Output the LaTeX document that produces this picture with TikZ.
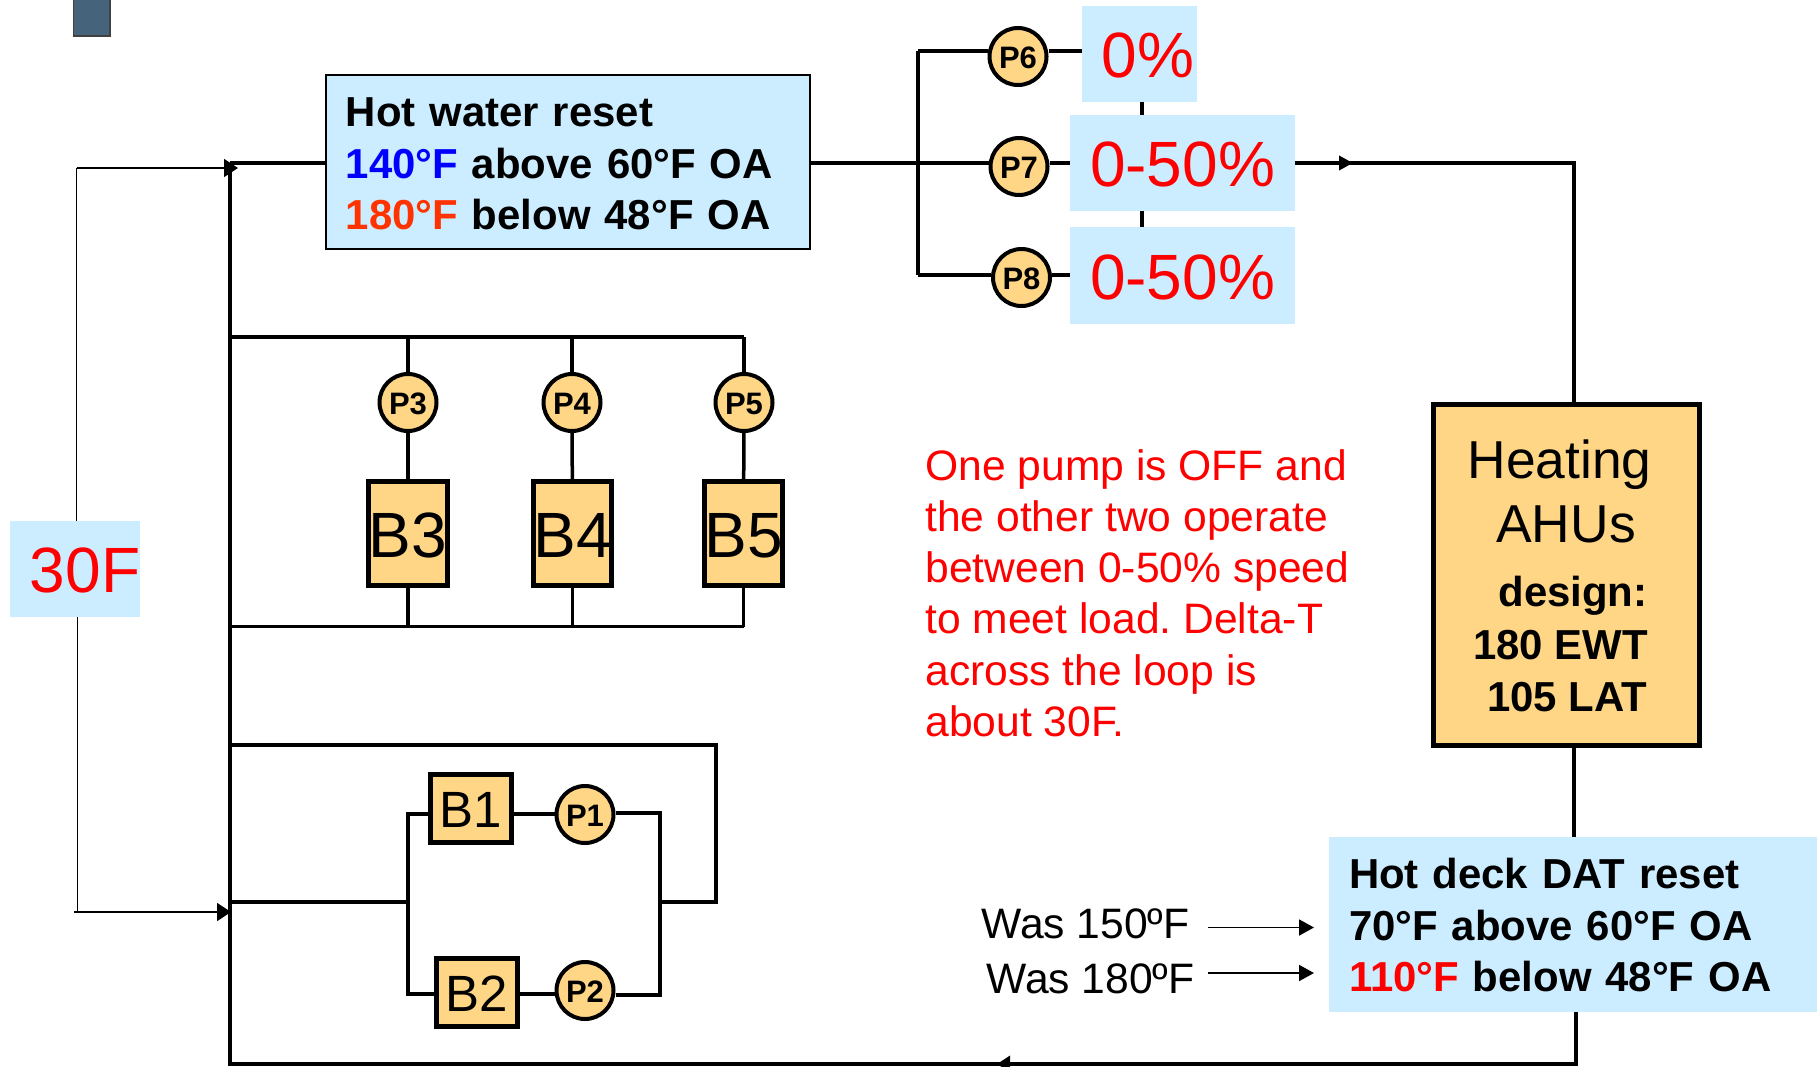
\documentclass[tikz,border=0pt]{standalone}
\usepackage{fontspec}
\setmainfont{Liberation Sans}
\usetikzlibrary{arrows.meta}
\definecolor{boxblue}{HTML}{CCECFF}
\definecolor{unitorange}{HTML}{FFD686}
\definecolor{hotred}{HTML}{FF3300}
\definecolor{slateblock}{HTML}{45647C}
\begin{document}
\begin{tikzpicture}[x=0.5pt,y=-0.5pt,
  pipe/.style={line width=1.75pt},
  sensor/.style={line width=0.9pt},
  pump/.style={draw,circle,line width=2pt,fill=unitorange,inner sep=0pt,minimum size=28.5pt,text height=12pt,text depth=0pt,font=\fontsize{15.5}{18}\selectfont\bfseries},
  boiler/.style={draw,line width=2.5pt,fill=unitorange,inner sep=0pt,text height=23.5pt,text depth=0pt,font=\fontsize{32}{36}\selectfont},
  smallboiler/.style={boiler,text height=19pt,font=\fontsize{25.5}{30}\selectfont,minimum width=40.5pt,minimum height=34pt},
  tagbox/.style={fill=boxblue,inner sep=0pt,text=red,text height=23.75pt,text depth=0pt,font=\fontsize{32}{36}\selectfont},
  ahutext/.style={font=\fontsize{26.7}{30}\selectfont,anchor=base},
  body/.style={font=\fontsize{21.3}{25.6}\selectfont},
  bodybold/.style={font=\fontsize{20.95}{25.75}\selectfont\bfseries}]
\useasboundingbox (0,0) rectangle (1820,1066);
\draw[line width=0.8pt,draw=black!75,fill=slateblock] (73.5,-2) rectangle (110,36);
\node[bodybold,draw,line width=1pt,fill=boxblue,inner xsep=10pt,inner ysep=0pt,text width=222.25pt,minimum height=87pt,align=left] (hotbox) at (568,162) {\rule{0pt}{16.5pt}Hot water reset\\{\color{blue}140°F} above 60°F OA\\{\color{hotred}180°F} below 48°F OA};
\node[tagbox,minimum width=65pt,minimum height=48pt] (thirty) at (75,569) {\hspace*{10pt}30F};
\node[tagbox,minimum width=57.5pt,minimum height=48pt] (pctsix) at (1139.5,54) {\hspace*{8.5pt}0\%};
\node[tagbox,minimum width=112.5pt,minimum height=48pt] (pctseven) at (1182.5,163) {0-50\%};
\node[tagbox,minimum width=112.5pt,minimum height=48.5pt] (pcteight) at (1182.5,275.5) {0-50\%};
\node[pump] (p6) at (1018,56.5) {P6};
\node[pump] (p7) at (1019,166.5) {P7};
\node[pump] (p8) at (1021.5,277.5) {P8};
\node[pump] (p3) at (408,402.5) {P3};
\node[pump] (p4) at (572,402.5) {P4};
\node[pump] (p5) at (744,402.5) {P5};
\node[boiler,minimum width=39pt,minimum height=52pt] (b3) at (408,533.75) {B3};
\node[boiler,minimum width=39pt,minimum height=52pt] (b4) at (572.5,533.75) {B4};
\node[boiler,minimum width=39pt,minimum height=52pt] (b5) at (743.5,533.75) {B5};
\node[smallboiler] (b1) at (471,808.5) {B1};
\node[smallboiler] (b2) at (476.5,992) {B2};
\node[pump] (p1) at (585,814.5) {P1};
\node[pump] (p2) at (585,990.5) {P2};
\node[boiler,minimum width=133pt,minimum height=170.5pt] (ahu) at (1566.5,574.5) {};
\node[ahutext] (heating) at (1559.5,478) {Heating};
\node[ahutext] (ahus) at (1566,542) {AHUs};
\node[bodybold,anchor=base] (design) at (1573,606) {design:};
\node[bodybold,anchor=base] (ewt) at (1560.5,659.5) {180 EWT};
\node[bodybold,anchor=base] (lat) at (1567,711.5) {105 LAT};
\node[bodybold,fill=boxblue,inner xsep=10pt,inner ysep=0pt,text width=224pt,minimum height=87.5pt,align=left] (deckbox) at (1573,924.5) {\rule{0pt}{16pt}Hot deck DAT reset\\70°F above 60°F OA\\{\color{red}110°F} below 48°F OA};
\node[body,text=red,inner sep=0pt,align=left,anchor=north west] (note) at (925,449) {One pump is OFF and\\the other two operate\\between 0-50\% speed\\to meet load.\ Delta-T\\across the loop is\\about 30F.};
\node[body,anchor=base west,inner sep=0pt] (wasone) at (981,938) {Was 150ºF};
\node[body,anchor=base west,inner sep=0pt] (wastwo) at (986,993) {Was 180ºF};
\coordinate (nw) at (230,163);
\coordinate (sw) at (230,1064);
\coordinate (se) at (1576,1064);
\coordinate (ne) at (1574,163);
\coordinate (midtip) at (1353,163);
\coordinate (lowtip) at (997,1064);
\coordinate (manl) at (918,163);
\coordinate (tie) at (1142,163);
\coordinate (tl) at (918,51);
\coordinate (bl) at (918,275);
\coordinate (headl) at (230,337);
\coordinate (headr) at (744,337);
\coordinate (footl) at (230,626.5);
\coordinate (footr) at (744,626.5);
\coordinate (loopa) at (230,745);
\coordinate (loopb) at (716,745);
\coordinate (loopc) at (716,902);
\coordinate (loopd) at (660,902);
\coordinate (lefta) at (230,902);
\coordinate (leftb) at (408,902);
\coordinate (leftt) at (408,814);
\coordinate (leftu) at (408,994);
\coordinate (rightt) at (660,813);
\coordinate (rightu) at (660,995);
\coordinate (senta) at (76.5,168);
\coordinate (sentb) at (238,168);
\coordinate (senbb) at (77.5,912);
\coordinate (senbl) at (73.5,912);
\coordinate (senbr) at (231,912);
\coordinate (waseast) at (1208,927.5);
\coordinate (wasfar) at (1314,927.5);
\coordinate (wassec) at (1208,973);
\coordinate (wassecfar) at (1314,973);
\draw[pipe] (hotbox.west |- nw) -- (nw);
\draw[pipe] (nw) -- (sw) -- (se) -- (se |- deckbox.south);
\draw[pipe,-{Triangle[length=6.5pt,width=8pt]}] (se) -- (lowtip);
\draw[pipe] (deckbox.north -| ne) -- (ahu.south -| ne);
\draw[pipe] (ahu.north -| ne) -- (ne) -- (pctseven.east);
\draw[pipe,-{Triangle[length=7pt,width=7pt]}] (pctseven.east) -- (midtip);
\draw[pipe] (hotbox.east |- nw) -- (nw -| p7.west);
\draw[pipe] (p7.east |- manl) -- (pctseven.west);
\draw[pipe] (tl) -- (bl);
\draw[pipe] (tl) -- (tl -| p6.west);
\draw[pipe] (tl -| p6.east) -- (tl -| pctsix.west);
\draw[pipe] (bl) -- (bl -| p8.west);
\draw[pipe] (bl -| p8.east) -- (bl -| pcteight.west);
\draw[pipe] (tie |- pctsix.south) -- (tie |- pctseven.north);
\draw[pipe] (tie |- pctseven.south) -- (tie |- pcteight.north);
\draw[pipe] (headl) -- (headr);
\draw[pipe] (footl) -- (footr);
\draw[pipe] (p3.north |- headl) -- (p3);
\draw[pipe] (p4.north |- headl) -- (p4);
\draw[pipe] (p5.north |- headr) -- (p5);
\draw[pipe] (p3) -- (b3);
\draw[pipe] (p4) -- (b4);
\draw[pipe] (p5) -- (b5);
\draw[pipe] (b3.south) -- (b3.south |- footl);
\draw[pipe] (b4.south) -- (b4.south |- footl);
\draw[pipe] (b5.south) -- (b5.south |- footr);
\draw[pipe] (loopa) -- (loopb) -- (loopc) -- (loopd);
\draw[pipe] (lefta) -- (leftb);
\draw[pipe] (b1.west |- leftt) -- (leftt) -- (leftu) -- (b2.west |- leftu);
\draw[pipe] (b1.east |- leftt) -- (p1.west |- leftt);
\draw[pipe] (b2.east |- leftu) -- (p2.west |- leftu);
\draw[pipe] (p1.east |- rightt) -- (rightt) -- (rightu) -- (p2.east |- rightu);
\draw[sensor] (senta) -- (senta |- thirty.north);
\draw[sensor,-{Triangle[length=7pt,width=9pt]}] (senta) -- (sentb);
\draw[sensor] (senbb |- thirty.south) -- (senbb);
\draw[sensor,-{Triangle[length=7pt,width=9pt]}] (senbl) -- (senbr);
\draw[sensor,-{Triangle[length=7.5pt,width=8pt]}] (waseast) -- (wasfar);
\draw[sensor,-{Triangle[length=7.5pt,width=8pt]}] (wassec) -- (wassecfar);
\end{tikzpicture}
\end{document}
